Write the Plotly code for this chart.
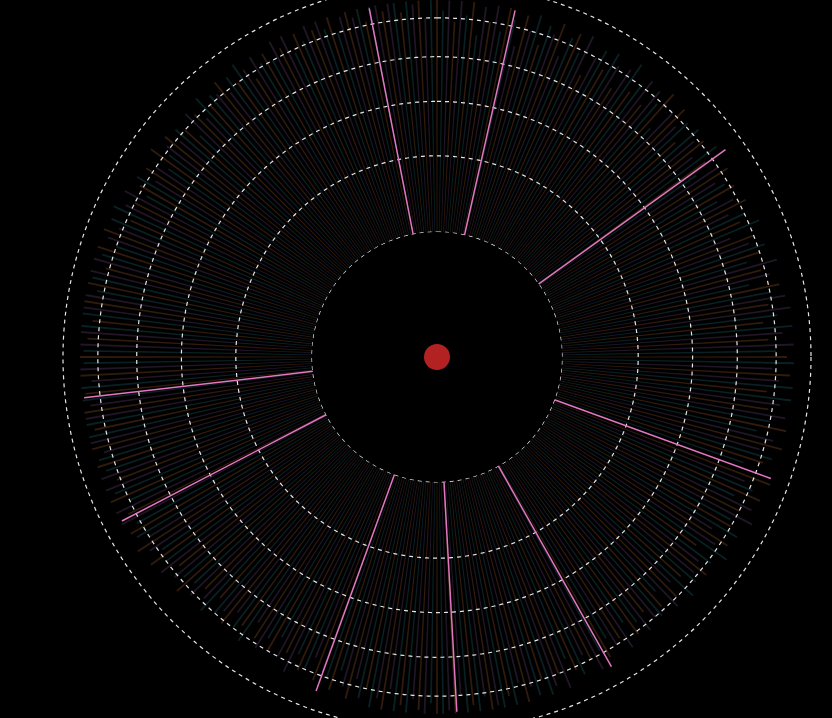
import numpy as np
import plotly.graph_objects as go

# ---------------- data ----------------
# bar values (one per degree, clockwise from top), in tick units (rings at 0..5)
bar_values = [
    4.6, 4.2, 4.8, 3.9, 4.5, 4.1, 4.7, 3.6, 4.4, 4.0,
    4.5, 3.8, 4.6, 4.2, 3.5, 4.4, 4.0, 4.7, 3.7, 4.3,
    4.1, 4.5, 3.6, 4.2, 4.4, 3.9, 4.6, 3.4, 4.0, 4.3,
    3.8, 4.4, 4.1, 3.5, 4.2, 4.5, 3.7, 4.0, 4.3, 3.6,
    4.2, 3.9, 4.4, 3.3, 4.0, 4.3, 3.8, 4.1, 3.5, 4.2,
    3.9, 4.1, 3.6, 4.3, 3.8, 3.4, 4.0, 4.2, 3.7, 3.9,
    4.1, 3.5, 3.9, 4.2, 3.6, 4.0, 3.8, 4.3, 3.4, 4.0,
    3.8, 4.2, 4.0, 3.6, 4.4, 3.9, 4.1, 3.5, 4.3, 4.0,
    4.4, 3.9, 4.6, 4.1, 3.7, 4.5, 4.2, 3.8, 4.7, 4.0,
    4.3, 4.6, 3.9, 4.4, 4.1, 4.7, 3.8, 4.5, 4.2, 3.9,
    4.4, 4.0, 4.5, 3.7, 4.2, 4.6, 3.9, 4.3, 4.1, 3.6,
    4.2, 4.5, 3.8, 4.1, 4.4, 3.7, 4.3, 4.0, 4.5, 3.9,
    4.0, 4.3, 3.6, 4.2, 3.9, 4.4, 3.5, 4.1, 3.8, 4.2,
    3.9, 4.1, 3.7, 4.3, 3.6, 4.0, 4.2, 3.5, 3.9, 4.1,
    4.0, 3.7, 4.2, 3.8, 4.1, 3.6, 4.3, 3.9, 4.0, 3.7,
    4.2, 3.9, 4.4, 4.0, 3.8, 4.3, 4.1, 3.7, 4.5, 4.0,
    4.3, 4.6, 4.0, 4.4, 4.1, 4.7, 3.9, 4.5, 4.2, 4.6,
    4.4, 4.8, 4.1, 4.6, 4.3, 4.9, 4.0, 4.7, 4.4, 4.5,
    4.6, 4.2, 4.8, 4.4, 4.1, 4.7, 4.3, 4.5, 3.9, 4.6,
    4.2, 4.5, 4.0, 4.3, 3.8, 4.4, 4.1, 3.7, 4.3, 4.0,
    3.9, 4.2, 3.6, 4.0, 4.1, 3.7, 4.3, 3.8, 4.0, 3.5,
    4.0, 3.7, 4.1, 3.9, 3.5, 4.2, 3.8, 4.0, 3.6, 4.1,
    3.8, 4.0, 3.6, 4.2, 3.9, 3.7, 4.1, 3.8, 4.3, 3.9,
    4.1, 3.8, 4.3, 4.0, 4.4, 3.9, 4.2, 4.5, 4.0, 4.3,
    4.4, 4.1, 4.6, 4.2, 4.5, 4.0, 4.7, 4.3, 4.5, 4.1,
    4.6, 4.3, 4.8, 4.4, 4.2, 4.7, 4.5, 4.9, 4.3, 4.6,
    4.5, 4.8, 4.3, 4.7, 4.4, 4.9, 4.2, 4.6, 4.8, 4.4,
    4.7, 4.4, 4.8, 4.3, 4.6, 4.9, 4.2, 4.7, 4.5, 4.8,
    4.5, 4.2, 4.7, 4.4, 4.6, 4.1, 4.8, 4.3, 4.5, 4.0,
    4.3, 4.6, 4.1, 4.4, 3.9, 4.5, 4.2, 4.0, 4.4, 3.8,
    4.1, 4.3, 3.8, 4.2, 4.0, 3.7, 4.4, 3.9, 4.1, 4.3,
    3.9, 4.2, 4.0, 3.6, 4.3, 4.1, 3.8, 4.4, 4.0, 4.2,
    4.1, 4.4, 3.9, 4.3, 4.0, 4.5, 4.2, 3.8, 4.4, 4.1,
    4.3, 4.0, 4.5, 4.2, 4.6, 3.9, 4.4, 4.1, 4.7, 4.3,
    4.5, 4.2, 4.7, 4.0, 4.4, 4.8, 4.3, 4.6, 4.1, 4.5,
    4.7, 4.3, 4.9, 4.5, 4.2, 4.8, 4.4, 4.6, 4.0, 4.7,
]
bar_angles = list(range(360))                 # degrees, clockwise from top
bar_palette = ["rgba(190,105,45,0.26)", "rgba(40,140,150,0.24)", "rgba(140,90,160,0.24)"]
bar_pattern = [0, 1, 2, 0, 2, 1]

ring_ticks = [0, 1, 2, 3, 4]                  # rings inside the plot window
outer_ring_tick = 5                           # outermost ring (extends past the window)
divider_angles = [349.0, 12.7, 54.3, 110.0, 150.6, 176.8, 199.9, 242.5, 263.4]
divider_length = 4.45                         # in ring units

# radial (area-proportional) scale, like d3.scaleRadial
R_IN, R_OUT, V_MAX = 125.0, 374.0, 5.0
R_VIEW = 357.0


def radial(v):
    v = np.asarray(v, dtype=float)
    return np.sqrt(R_IN ** 2 + (R_OUT ** 2 - R_IN ** 2) * v / V_MAX)


RING_STYLE = dict(color="rgba(255,255,255,0.9)", width=1.2, dash="4px,4px")

fig = go.Figure()

# bars
bar_r = radial(bar_values) - R_IN
bar_colors = [bar_palette[bar_pattern[i % len(bar_pattern)]] for i in range(len(bar_values))]
fig.add_trace(go.Barpolar(
    r=bar_r, theta=bar_angles, base=R_IN, width=0.3,
    marker=dict(color=bar_colors, line=dict(width=0)),
    hoverinfo="skip", subplot="polar",
))

# dashed rings
ring_theta = np.arange(0, 360.5, 0.5)
for t in ring_ticks:
    fig.add_trace(go.Scatterpolar(
        r=np.full(ring_theta.shape, float(radial(t))), theta=ring_theta,
        mode="lines", line=RING_STYLE,
        hoverinfo="skip", subplot="polar",
    ))

# pink dividers
div_r, div_t = [], []
for a in divider_angles:
    div_r += [float(radial(0)), float(radial(divider_length)), None]
    div_t += [a, a, None]
fig.add_trace(go.Scatterpolar(
    r=div_r, theta=div_t, mode="lines",
    line=dict(color="#e377c2", width=1.5),
    hoverinfo="skip", subplot="polar",
))

# center dot (cartesian overlay whose origin is the chart centre, 1 unit = 1 px)
fig.add_trace(go.Scatter(
    x=[0], y=[0], mode="markers",
    marker=dict(size=26, color="#b22222"),
    hoverinfo="skip", xaxis="x", yaxis="y",
))

W, H = 832, 718
cx, cy = 437, 357

# outermost ring on the overlay axes (it runs off the top and bottom of the page)
r_outer = float(radial(outer_ring_tick))
fig.add_shape(
    type="circle", xref="x", yref="y",
    x0=-r_outer, x1=r_outer, y0=-r_outer, y1=r_outer,
    line=RING_STYLE, layer="above",
)

xdom = [cx / W - 0.45, cx / W + 0.45]
ydom = [1 - (cy + R_VIEW) / H, 1 - (cy - R_VIEW) / H]
ydom = [max(0, ydom[0]), min(1, ydom[1])]

fig.update_layout(
    width=W, height=H,
    margin=dict(l=0, r=0, t=0, b=0),
    paper_bgcolor="black", plot_bgcolor="rgba(0,0,0,0)",
    showlegend=False,
    xaxis=dict(visible=False, range=[-cx, W - cx], domain=[0, 1], fixedrange=True),
    yaxis=dict(visible=False, range=[-(H - cy), cy], domain=[0, 1], fixedrange=True),
    polar=dict(
        domain=dict(x=xdom, y=ydom),
        bgcolor="rgba(0,0,0,0)", hole=R_IN / R_VIEW,
        radialaxis=dict(visible=False, range=[R_IN, R_VIEW]),
        angularaxis=dict(visible=False, rotation=90, direction="clockwise"),
    ),
)

fig.write_html(
    "out.html",
    config={"displayModeBar": False},
    post_script="document.body.style.margin='0';document.body.style.background='black';",
)
